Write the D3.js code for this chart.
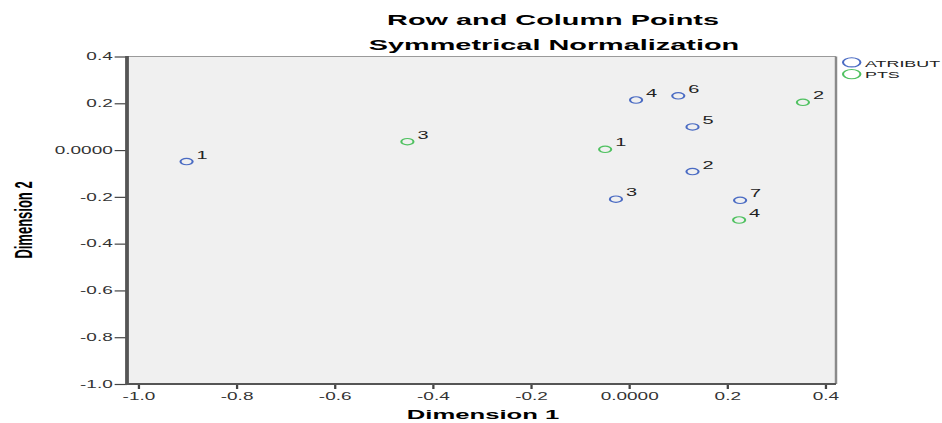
<!DOCTYPE html>
<html>
<head>
<meta charset="utf-8">
<script src="https://cdn.jsdelivr.net/npm/d3@7"></script>
<style>
    html, body { margin: 0; padding: 0; background: #ffffff; }
    svg { display: block; }
    text { font-family: "Liberation Sans", Arial, sans-serif; }
</style>
</head>
<body>
<div id="chart"></div>
<script>
// row points (ATRIBUT) and column points (PTS)
var atributLabels = ["1", "2", "3", "4", "5", "6", "7"];
var atributDim1 = [-0.901, 0.130, -0.026, 0.015, 0.130, 0.101, 0.227];
var atributDim2 = [-0.049, -0.092, -0.210, 0.214, 0.099, 0.232, -0.215];

var ptsLabels = ["1", "2", "3", "4"];
var ptsDim1 = [-0.048, 0.355, -0.451, 0.225];
var ptsDim2 = [0.003, 0.204, 0.036, -0.299];

var xTicks = [-1.0, -0.8, -0.6, -0.4, -0.2, 0.0, 0.2, 0.4];
var yTicks = [0.4, 0.2, 0.0, -0.2, -0.4, -0.6, -0.8, -1.0];
var seriesNames = ["ATRIBUT", "PTS"];
var seriesColors = ["#4a6bc3", "#4fc160"];

// the reference picture is stretched sideways, so draw in a narrower frame and scale it
var stretch = 1.9;
var width = 942, height = 423;

var svg = d3.select("#chart").append("svg")
    .attr("width", width).attr("height", height);
var root = svg.append("g").attr("transform", "scale(" + stretch + ",1)");

var plotLeft = 127 / stretch, plotRight = 836 / stretch;
var plotTop = 56.5, plotBottom = 384;

var x = d3.scaleLinear().domain([-1.0224, 0.4224]).range([plotLeft, plotRight]);
var y = d3.scaleLinear().domain([-1.0, 0.4]).range([plotBottom, plotTop]);

function tickText(d) {
    if (Math.abs(d) < 1e-9) return "0.0000";
    return d3.format(".1f")(d).replace("\u2212", "-");
}

// plot background and frame
root.append("rect")
    .attr("x", plotLeft).attr("y", plotTop)
    .attr("width", plotRight - plotLeft).attr("height", plotBottom - plotTop)
    .attr("fill", "#f0f0f0");
root.append("line")
    .attr("x1", plotLeft).attr("x2", plotRight).attr("y1", plotTop).attr("y2", plotTop)
    .attr("stroke", "#9a9a9a").attr("stroke-width", 1);
root.append("line")
    .attr("x1", plotRight).attr("x2", plotRight).attr("y1", plotTop).attr("y2", plotBottom)
    .attr("stroke", "#8a8a8a").attr("stroke-width", 1.3);

// axes
var yAxis = d3.axisLeft(y).tickValues(yTicks).tickFormat(tickText).tickSize(6.5).tickPadding(1);
var gy = root.append("g").attr("transform", "translate(" + plotLeft + ",0)").call(yAxis);
var xAxis = d3.axisBottom(x).tickValues(xTicks).tickFormat(tickText).tickSize(5).tickPadding(4);
var gx = root.append("g").attr("transform", "translate(0," + plotBottom + ")").call(xAxis);

[gx, gy].forEach(function (g) {
    g.select(".domain").remove();
    g.selectAll(".tick line").attr("stroke", "#444").attr("stroke-width", 1.2);
    g.selectAll(".tick text")
        .attr("fill", "#333")
        .style("font-size", "10px")
        .style("font-family", "'Liberation Sans', Arial, sans-serif");
});

root.append("line")
    .attr("x1", plotLeft).attr("x2", plotLeft).attr("y1", plotTop - 0.5).attr("y2", plotBottom + 1)
    .attr("stroke", "#555").attr("stroke-width", 2);
root.append("line")
    .attr("x1", plotLeft).attr("x2", plotRight).attr("y1", plotBottom).attr("y2", plotBottom)
    .attr("stroke", "#555").attr("stroke-width", 2);

// points
function drawSeries(labels, d1, d2, color) {
    var data = labels.map(function (l, i) { return {label: l, dim1: d1[i], dim2: d2[i]}; });
    var g = root.append("g");
    g.selectAll("circle").data(data).enter().append("circle")
        .attr("cx", function (d) { return x(d.dim1); })
        .attr("cy", function (d) { return y(d.dim2); })
        .attr("r", 3.2)
        .attr("fill", "none").attr("stroke", color).attr("stroke-width", 1.1);
    g.selectAll("text").data(data).enter().append("text")
        .attr("x", function (d) { return x(d.dim1) + 10 / stretch; })
        .attr("y", function (d) { return y(d.dim2) - 3; })
        .attr("fill", "#222")
        .style("font-size", "10.5px")
        .text(function (d) { return d.label; });
}
drawSeries(atributLabels, atributDim1, atributDim2, seriesColors[0]);
drawSeries(ptsLabels, ptsDim1, ptsDim2, seriesColors[1]);

// titles
root.append("text")
    .attr("x", 553 / stretch).attr("y", 25)
    .attr("text-anchor", "middle")
    .style("font-size", "15.2px").style("font-weight", "bold")
    .text("Row and Column Points");
root.append("text")
    .attr("x", 554 / stretch).attr("y", 50.5)
    .attr("text-anchor", "middle")
    .style("font-size", "15.2px").style("font-weight", "bold")
    .text("Symmetrical Normalization");

root.append("text")
    .attr("x", 483 / stretch).attr("y", 419)
    .attr("text-anchor", "middle")
    .style("font-size", "13.5px").style("font-weight", "bold")
    .text("Dimension 1");
root.append("text")
    .attr("transform", "translate(" + (31.5 / stretch) + ",220) rotate(-90)")
    .attr("text-anchor", "middle")
    .style("font-size", "13px").style("font-weight", "bold")
    .text("Dimension 2");

// legend
var legend = root.append("g");
seriesNames.forEach(function (name, i) {
    var ly = 62.3 + i * 11.8;
    legend.append("circle")
        .attr("cx", 851.7 / stretch).attr("cy", ly).attr("r", 4.6)
        .attr("fill", "none").attr("stroke", seriesColors[i]).attr("stroke-width", 1.1);
    legend.append("text")
        .attr("x", 865 / stretch).attr("y", ly + 4.3)
        .attr("fill", "#222")
        .style("font-size", "9.4px")
        .text(name);
});
</script>
</body>
</html>
